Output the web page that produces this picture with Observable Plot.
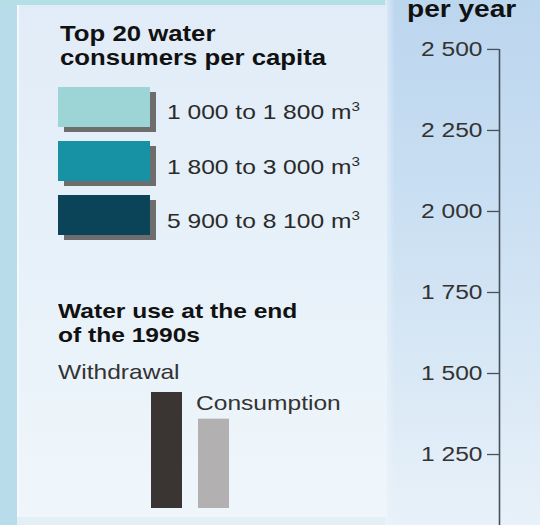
<!DOCTYPE html>
<html><head><meta charset="utf-8">
<script src="https://cdn.jsdelivr.net/npm/d3@7"></script>
<script src="https://cdn.jsdelivr.net/npm/@observablehq/plot@0.6"></script>
<style>
html,body{margin:0;padding:0;background:#fff;}
#chart{position:relative;width:540px;height:525px;overflow:hidden;background:#b8dcea;font-family:"Liberation Sans",Arial,Helvetica,sans-serif;}
.abs{position:absolute;}
.t{position:absolute;white-space:nowrap;line-height:1;transform-origin:0 50%;color:#161616;}
</style></head><body><div id="chart"></div><script>
// ---- data ----
const titleLines = ["Top 20 water", "consumers per capita"];
const consumerClasses = ["1 000 to 1 800 m", "1 800 to 3 000 m", "5 900 to 8 100 m"];
const consumerColors = ["#9dd4d6", "#1792a4", "#0b4358"];
const useTitleLines = ["Water use at the end", "of the 1990s"];
const useCats = ["Withdrawal", "Consumption"];
const useValues = [100, 77];          // relative heights of the two icons
const useColors = ["#3a3432", "#b2b0b0"];
const yTicks = [1000, 1250, 1500, 1750, 2000, 2250, 2500];
const axisTitle = "per year";
const yDomain = [1031, 2651];

const STRETCH = 1.17;
const chart = document.getElementById("chart");
function box(css){ const d=document.createElement("div"); d.className="abs"; Object.assign(d.style,css); chart.appendChild(d); return d; }
function text(html, left, baseline, size, weight, color){
  const d=document.createElement("div"); d.className="t";
  d.innerHTML=html;
  Object.assign(d.style,{left:left+"px", top:(baseline-0.8465*size)+"px", fontSize:size+"px", fontWeight:weight||"normal", color:color||"#161616", transform:`scaleX(${STRETCH})`});
  chart.appendChild(d); return d;
}

// backgrounds
box({left:"385px",top:"0px",width:"155px",height:"525px",background:"linear-gradient(to bottom,#bcd6ee 0%,#c8def2 35%,#d9e8f5 70%,#e8f1f9 100%)"});
box({left:"385px",top:"0px",width:"10px",height:"525px",background:"linear-gradient(to right,rgba(235,244,251,0.7),rgba(235,244,251,0))"});
box({left:"0px",top:"0px",width:"385px",height:"6px",background:"#b5dfe7"});
box({left:"17px",top:"5px",width:"368px",height:"512px",background:"linear-gradient(to bottom,#e1ecf8 0%,#e7f1f9 50%,#eff6fb 100%)",borderLeft:"2px solid #f3f9fe"});
box({left:"17px",top:"517px",width:"368px",height:"8px",background:"#e2eff5"});

// axis (Plot)
const fmt = d3.formatLocale({thousands:" ", grouping:[3], decimal:".", currency:["",""]}).format(",");
const axisPlot = Plot.plot({
  width:540, height:525, marginLeft:499, marginRight:0, marginTop:0, marginBottom:0,
  x:{domain:[0,1], axis:null},
  y:{domain:yDomain, axis:null},
  style:{background:"transparent", overflow:"visible", fontFamily:"Liberation Sans, Arial, sans-serif"},
  marks:[
    Plot.ruleX([0], {y1:2500, y2:yDomain[0], stroke:"#45515d", strokeWidth:1.6}),
    Plot.axisY(yTicks, {anchor:"left", tickSize:12, tickPadding:5, tickFormat:fmt, fontSize:21, fill:"#333", stroke:"#45515d", strokeWidth:1.3})
  ]
});
axisPlot.style.position="absolute"; axisPlot.style.left="0px"; axisPlot.style.top="0px";
chart.appendChild(axisPlot);
d3.select(axisPlot).selectAll("text").each(function(){
  const tr=this.getAttribute("transform");
  if(tr) this.setAttribute("transform", tr+` scale(${STRETCH},1)`);
  else { const x=+this.getAttribute("x")||0; this.setAttribute("transform",`translate(${x},0) scale(${STRETCH},1) translate(${-x},0)`); }
});
text(axisTitle, 407, 17, 24, "bold", "#111");

// legend: consumers
text(titleLines[0], 60, 42, 22, "bold", "#111");
text(titleLines[1], 60, 66, 22, "bold", "#111");
const swTops=[87,141,195], lblBase=[119,174,228];
consumerClasses.forEach((c,i)=>{
  box({left:"58px",top:swTops[i]+"px",width:"92px",height:"40px",background:consumerColors[i],boxShadow:"6px 5px 0 #6d6d6d"});
  text(c+`<span style="font-size:13px;position:relative;top:-8px">3</span>`, 167, lblBase[i], 21, "normal", "#2a2a2a");
});

// legend: water use
text(useTitleLines[0], 58, 318, 21, "bold", "#111");
text(useTitleLines[1], 58, 342, 21, "bold", "#111");
text(useCats[0], 58, 379, 21, "normal", "#333");
text(useCats[1], 196, 410, 21, "normal", "#333");
const usePlot = Plot.plot({
  width:80, height:116, margin:0,
  x:{domain:useCats, paddingInner:0.333, paddingOuter:0, axis:null},
  y:{domain:[0,100], axis:null},
  color:{domain:useCats, range:useColors},
  style:{background:"transparent"},
  marks:[Plot.barY(useCats.map((c,i)=>({cat:c, v:useValues[i]})), {x:"cat", y:"v", fill:"cat"})]
});
usePlot.style.position="absolute"; usePlot.style.left="150px"; usePlot.style.top="392px";
chart.appendChild(usePlot);
</script></body></html>
